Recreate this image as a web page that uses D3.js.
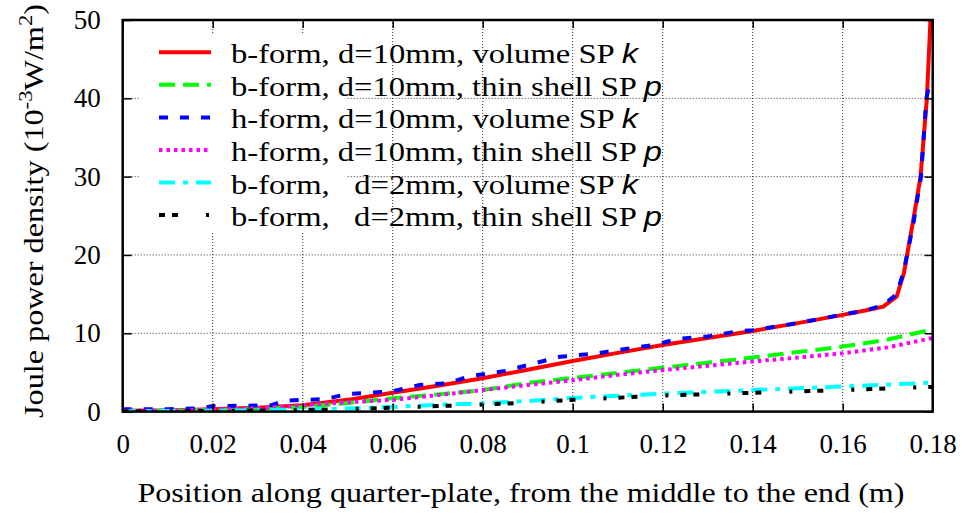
<!DOCTYPE html>
<html>
<head>
<meta charset="utf-8">
<script src="https://cdn.jsdelivr.net/npm/d3@7"></script>
<style>
  body { margin: 0; background: #fff; }
  text { font-family: "Liberation Serif", "DejaVu Serif", serif; fill: #000; }
</style>
</head>
<body>
<div id="chart"></div>
<script>
// values (x in m, y in 1e-3 W/m^2)
let xTicks = [0, 0.02, 0.04, 0.06, 0.08, 0.1, 0.12, 0.14, 0.16, 0.18];
let yTicks = [0, 10, 20, 30, 40, 50];

let bVol10 = [[0, 0.1], [0.01, 0.15], [0.02, 0.3], [0.03, 0.5], [0.04, 0.8], [0.05, 1.5], [0.06, 2.4], [0.07, 3.3],
  [0.08, 4.25], [0.09, 5.35], [0.1, 6.45], [0.11, 7.5], [0.12, 8.5], [0.13, 9.4], [0.14, 10.3], [0.15, 11.3],
  [0.16, 12.35], [0.165, 12.9], [0.169, 13.4], [0.172, 14.7], [0.1736, 17.7], [0.1757, 24.5], [0.1773, 30],
  [0.1787, 40], [0.1795, 50], [0.18, 56]];
let bShell10 = [[0, 0.05], [0.01, 0.1], [0.02, 0.2], [0.03, 0.35], [0.04, 0.6], [0.05, 1.1], [0.06, 1.7], [0.07, 2.2],
  [0.08, 2.75], [0.09, 3.65], [0.1, 4.3], [0.11, 4.95], [0.12, 5.6], [0.13, 6.25], [0.14, 6.9], [0.15, 7.6],
  [0.16, 8.3], [0.17, 9.2], [0.18, 10.5]];
let hVol10 = [[0, 0.3], [0.01, 0.3], [0.017, 0.4], [0.02, 0.7], [0.033, 0.8], [0.036, 1.4], [0.045, 1.6], [0.05, 2.25],
  [0.06, 2.6], [0.066, 3.4], [0.072, 3.6], [0.077, 4.5], [0.085, 5.2], [0.0972, 7.0], [0.105, 7.4], [0.1117, 8.0],
  [0.118, 8.5], [0.1236, 9.3], [0.13, 9.6], [0.1362, 10.2], [0.14, 10.4], [0.15, 11.3], [0.16, 12.4], [0.165, 12.9],
  [0.169, 13.6], [0.172, 15.0], [0.1736, 18], [0.1757, 24], [0.1774, 30], [0.1786, 40], [0.1795, 42.5]];
let hShell10 = [[0, 0.1], [0.01, 0.1], [0.02, 0.25], [0.03, 0.4], [0.04, 0.8], [0.05, 1.2], [0.06, 1.5], [0.07, 2.1],
  [0.08, 2.75], [0.09, 3.4], [0.1, 4.0], [0.11, 4.7], [0.12, 5.3], [0.13, 5.85], [0.14, 6.4], [0.15, 6.9],
  [0.16, 7.45], [0.17, 8.2], [0.18, 9.4]];
let bVol2 = [[0, 0.05], [0.02, 0.1], [0.04, 0.25], [0.05, 0.4], [0.06, 0.6], [0.07, 0.85], [0.08, 1.05], [0.09, 1.35],
  [0.1, 1.75], [0.12, 2.3], [0.14, 2.75], [0.16, 3.2], [0.18, 3.7]];
let bShell2 = [[0, 0.05], [0.02, 0.08], [0.04, 0.2], [0.05, 0.3], [0.06, 0.5], [0.07, 0.7], [0.08, 0.9], [0.09, 1.15],
  [0.1, 1.5], [0.12, 2.05], [0.14, 2.4], [0.16, 2.75], [0.18, 3.15]];

let seriesLabels = [
  ["b-form, d=10mm, volume SP ", "k"],
  ["b-form, d=10mm, thin shell SP ", "p"],
  ["h-form, d=10mm, volume SP ", "k"],
  ["h-form, d=10mm, thin shell SP ", "p"],
  ["b-form,   d=2mm, volume SP ", "k"],
  ["b-form,   d=2mm, thin shell SP ", "p"]
];
let seriesData = [bVol10, bShell10, hVol10, hShell10, bVol2, bShell2];
let seriesColors = ["#ff0000", "#00ff00", "#0000ff", "#ff00ff", "#00ffff", "#000000"];
let seriesDash = ["none", "16,8", "9,12", "3.5,4", "16,8,5,8", "6,7,6,28,3,12"];

let W = 968, H = 516;
let pLeft = 122.7, pRight = 932.7, pTop = 20, pBottom = 411.6;

let svg = d3.select("#chart")
  .append("svg")
  .attr("width", W)
  .attr("height", H);

let x = d3.scaleLinear().domain([0, 0.18]).range([pLeft, pRight]);
let y = d3.scaleLinear().domain([0, 50]).range([pBottom, pTop]);

svg.append("clipPath").attr("id", "plotclip")
  .append("rect")
  .attr("x", pLeft).attr("y", pTop)
  .attr("width", pRight - pLeft).attr("height", pBottom - pTop);

// dotted grid
let grid = svg.append("g");
grid.selectAll(".vg").data(xTicks.slice(1, -1)).enter().append("line")
  .attr("x1", function(d) { return x(d); }).attr("x2", function(d) { return x(d); })
  .attr("y1", pTop).attr("y2", pBottom)
  .attr("stroke", "#333").attr("stroke-width", 1).attr("stroke-dasharray", "1,2");
grid.selectAll(".hg").data(yTicks.slice(1, -1)).enter().append("line")
  .attr("y1", function(d) { return y(d); }).attr("y2", function(d) { return y(d); })
  .attr("x1", pLeft).attr("x2", pRight)
  .attr("stroke", "#333").attr("stroke-width", 1).attr("stroke-dasharray", "1,2");

// opaque key box (gnuplot blanks only part of the key)
svg.append("rect")
  .attr("x", 140).attr("y", 35)
  .attr("width", 207).attr("height", 198)
  .attr("fill", "#fff");

let line = d3.line()
  .x(function(d) { return x(d[0]); })
  .y(function(d) { return y(d[1]); });

svg.append("g").attr("clip-path", "url(#plotclip)")
  .selectAll("path")
  .data(seriesData)
  .enter().append("path")
  .attr("d", line)
  .attr("fill", "none")
  .attr("stroke", function(d, i) { return seriesColors[i]; })
  .attr("stroke-width", 4)
  .attr("stroke-dasharray", function(d, i) { return seriesDash[i]; });

// axes, ticks pointing inward on all four sides
let fmt = function(d) { return d === 0 ? "0" : d3.format(".2~f")(d); };

let xAxis = svg.append("g")
  .attr("transform", "translate(0," + pBottom + ")")
  .call(d3.axisBottom(x).tickValues(xTicks).tickFormat(fmt).tickSizeInner(-8).tickSizeOuter(0).tickPadding(22));
let yAxis = svg.append("g")
  .attr("transform", "translate(" + pLeft + ",0)")
  .call(d3.axisLeft(y).tickValues(yTicks).tickSizeInner(-9).tickSizeOuter(0).tickPadding(22));
let xTop = svg.append("g")
  .attr("transform", "translate(0," + pTop + ")")
  .call(d3.axisTop(x).tickValues(xTicks).tickFormat("").tickSizeInner(-8).tickSizeOuter(0));
let yRight = svg.append("g")
  .attr("transform", "translate(" + pRight + ",0)")
  .call(d3.axisRight(y).tickValues(yTicks).tickFormat("").tickSizeInner(-8).tickSizeOuter(0));

[xAxis, yAxis, xTop, yRight].forEach(function(a) {
  a.select(".domain").remove();
  a.selectAll("line").attr("stroke", "#000").attr("stroke-width", 1.5);
  a.selectAll("text")
    .style("font-family", "'Liberation Serif', serif")
    .style("font-size", "27px");
});

svg.append("rect")
  .attr("x", pLeft).attr("y", pTop)
  .attr("width", pRight - pLeft).attr("height", pBottom - pTop)
  .attr("fill", "none").attr("stroke", "#000").attr("stroke-width", 2.5);

// axis titles
svg.append("text")
  .attr("x", 521).attr("y", 502)
  .attr("text-anchor", "middle")
  .attr("textLength", 767).attr("lengthAdjust", "spacingAndGlyphs")
  .style("font-size", "27px")
  .text("Position along quarter-plate, from the middle to the end (m)");

let yl = svg.append("text")
  .attr("transform", "translate(43,211) rotate(-90)")
  .attr("text-anchor", "middle")
  .attr("textLength", 414).attr("lengthAdjust", "spacingAndGlyphs")
  .style("font-size", "27px");
yl.append("tspan").text("Joule power density (10");
yl.append("tspan").attr("dy", -11).style("font-size", "19px").text("-3");
yl.append("tspan").attr("dy", 11).text("W/m");
yl.append("tspan").attr("dy", -11).style("font-size", "19px").text("2");
yl.append("tspan").attr("dy", 11).text(")");

// key
let key = svg.append("g");
let rowY = function(i) { return 52.3 + i * 32.55; };
key.selectAll("line")
  .data(seriesLabels)
  .enter().append("line")
  .attr("x1", 159).attr("x2", 211)
  .attr("y1", function(d, i) { return rowY(i); })
  .attr("y2", function(d, i) { return rowY(i); })
  .attr("stroke", function(d, i) { return seriesColors[i]; })
  .attr("stroke-width", 4)
  .attr("stroke-dasharray", function(d, i) { return seriesDash[i]; });

let keyText = key.selectAll("text")
  .data(seriesLabels)
  .enter().append("text")
  .attr("x", 231)
  .attr("y", function(d, i) { return rowY(i) + 11; })
  .attr("textLength", function(d) { return d[1] === "k" ? 407 : 431; })
  .attr("lengthAdjust", "spacingAndGlyphs")
  .attr("xml:space", "preserve")
  .style("white-space", "pre")
  .style("font-size", "27px");
keyText.append("tspan").text(function(d) { return d[0]; });
keyText.append("tspan")
  .style("font-family", "'Liberation Sans', sans-serif")
  .style("font-style", "italic")
  .text(function(d) { return d[1]; });
</script>
</body>
</html>
